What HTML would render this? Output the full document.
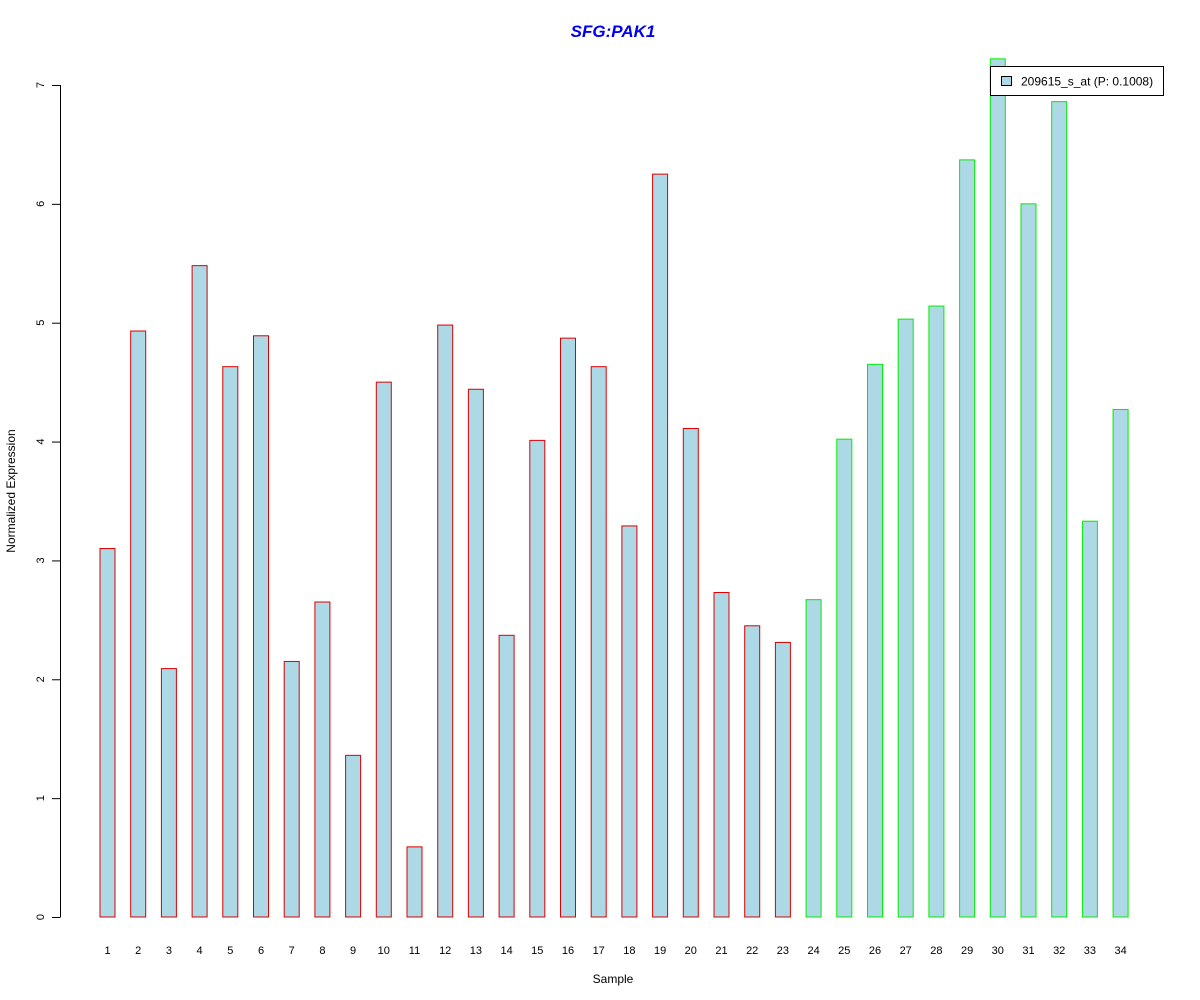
<!DOCTYPE html>
<html><head><meta charset="utf-8"><style>body{margin:0;background:#fff}svg{display:block;font-family:"Liberation Sans",Arial,sans-serif}</style></head>
<body>
<svg id="chart" width="1200" height="1000">
<text x="613" y="37" text-anchor="middle" font-size="17" font-weight="bold" font-style="italic" fill="#0000ee">SFG:PAK1</text>
<text x="613" y="983" text-anchor="middle" font-size="12">Sample</text>
<text transform="translate(15,491) rotate(-90)" text-anchor="middle" font-size="12">Normalized Expression</text>
<g id="bars"></g><g id="yaxis"></g><g id="xlabels"></g>
<g>
<rect x="990.5" y="66.5" width="173" height="29" fill="#fff" stroke="#000"/>
<rect x="1001.5" y="76.5" width="10" height="9" fill="#add8e6" stroke="#000"/>
<text x="1021" y="85.5" font-size="12">209615_s_at (P: 0.1008)</text>
</g>
</svg>
<script>
const categories=[];for(let i=1;i<=34;i++)categories.push(String(i));
const values=[3.10,4.93,2.09,5.48,4.63,4.89,2.15,2.65,1.36,4.50,0.59,4.98,4.44,2.37,4.01,4.87,4.63,3.29,6.25,4.11,2.73,2.45,2.31,2.67,4.02,4.65,5.03,5.14,6.37,7.22,6.00,6.86,3.33,4.27];
const groups=[0,0,0,0,0,0,0,0,0,0,0,0,0,0,0,0,0,0,0,0,0,0,0,1,1,1,1,1,1,1,1,1,1,1];
const yTicks=[0,1,2,3,4,5,6,7];
const NS="http://www.w3.org/2000/svg";
const y=v=>917-v*118.86;
const x=i=>107.5+i*30.7;
const bars=document.getElementById('bars'),ya=document.getElementById('yaxis'),xl=document.getElementById('xlabels');
values.forEach((v,i)=>{
 const r=document.createElementNS(NS,'rect');
 
 
 r.setAttribute('x',x(i)-7.5);r.setAttribute('width',15);
 r.setAttribute('y',y(v));r.setAttribute('height',917-y(v));
 r.setAttribute('fill','#add8e6');r.setAttribute('stroke',groups[i]?'#00ee00':'#dd0000');
 bars.appendChild(r);
 const t=document.createElementNS(NS,'text');
 
 
 t.setAttribute('x',x(i));t.setAttribute('y',954);t.setAttribute('text-anchor','middle');t.setAttribute('font-size','11');
 t.textContent=categories[i];xl.appendChild(t);
});
const ax=document.createElementNS(NS,'line');


ax.setAttribute('x1',60.5);ax.setAttribute('x2',60.5);ax.setAttribute('y1',y(0));ax.setAttribute('y2',y(7));ax.setAttribute('stroke','#000');
ya.appendChild(ax);
yTicks.forEach(v=>{
 const l=document.createElementNS(NS,'line');
 
 
 l.setAttribute('x1',52);l.setAttribute('x2',60.5);l.setAttribute('y1',y(v)+.5);l.setAttribute('y2',y(v)+.5);l.setAttribute('stroke','#000');
 ya.appendChild(l);
 const t=document.createElementNS(NS,'text');
 
 
 t.setAttribute('transform','translate(44,'+y(v)+') rotate(-90)');t.setAttribute('text-anchor','middle');t.setAttribute('font-size','11');
 t.textContent=v;ya.appendChild(t);
});
</script>
</body></html>
